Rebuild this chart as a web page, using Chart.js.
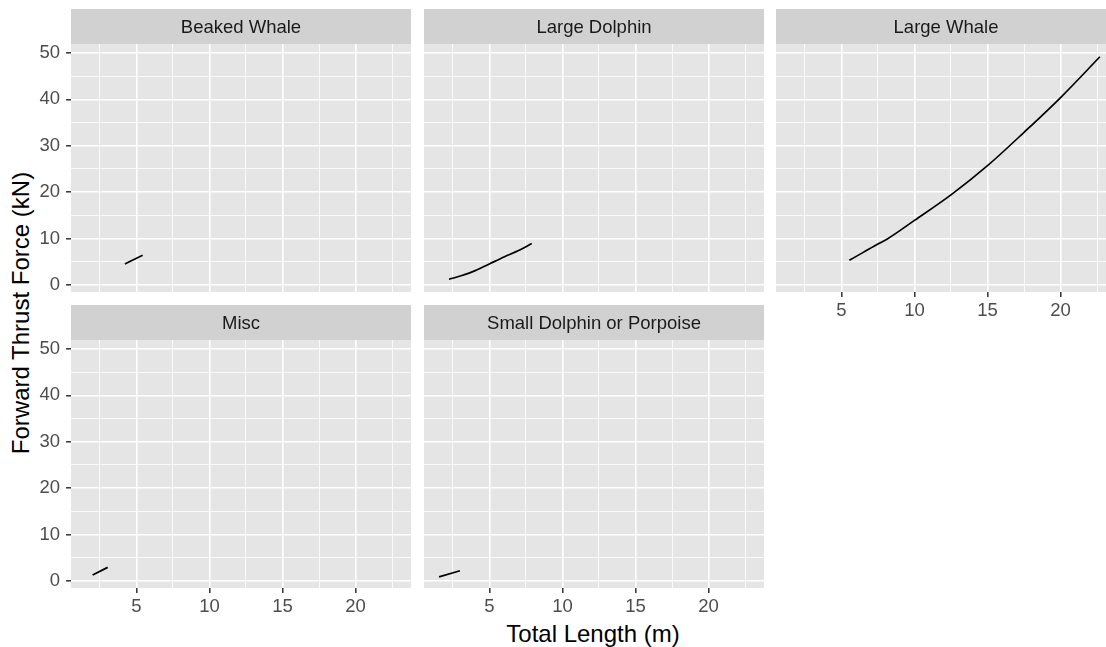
<!DOCTYPE html>
<html>
<head>
<meta charset="utf-8">
<script src="https://cdn.jsdelivr.net/npm/chart.js@4.4.1/dist/chart.umd.min.js"></script>
<style>
    html, body { margin: 0; overflow: hidden; background: #fff; }
    #wrap { position: relative; width: 1106px; height: 647px; overflow: hidden; }
    canvas { position: absolute; }
    .axis-title {
        position: absolute; color: #000; font: 24px "Liberation Sans", Arial, sans-serif;
        line-height: 1; white-space: nowrap; transform: translate(-50%, -50%);
    }
</style>
</head>
<body>
<div id="wrap">
<div class="axis-title" style="left:593px;top:633.5px">Total Length (m)</div>
<div class="axis-title" style="left:21px;top:313px;transform:translate(-50%,-50%) rotate(-90deg)">Forward Thrust Force (kN)</div>
</div>
<script>
// values
const beakedLen = [4.22, 4.8, 5.43];
const beakedForce = [4.5, 5.4, 6.4];
const largeDolphinLen = [2.24, 3, 4, 5, 6, 7, 7.9];
const largeDolphinForce = [1.2, 1.9, 3.0, 4.5, 6.0, 7.4, 8.9];
const largeWhaleLen = [5.55, 6.5, 7.5, 8.12, 10, 12.5, 15, 17.5, 20, 22.69];
const largeWhaleForce = [5.3, 7.0, 8.8, 9.85, 13.9, 19.4, 25.7, 32.9, 40.4, 49.2];
const miscLen = [2.01, 3.04];
const miscForce = [1.23, 2.9];
const smallDolphinLen = [1.56, 2.99];
const smallDolphinForce = [0.86, 2.16];

const xMajor = [5, 10, 15, 20];
const xMinor = [2.5, 7.5, 12.5, 17.5, 22.5];
const yMajor = [0, 10, 20, 30, 40, 50];
const yMinor = [5, 15, 25, 35, 45];
const xLimits = [0.53, 23.79];
const yLimits = [-1.55, 51.95];

const panels = [
    { name: 'Beaked Whale', len: beakedLen, force: beakedForce, col: 0, row: 0, showX: false },
    { name: 'Large Dolphin', len: largeDolphinLen, force: largeDolphinForce, col: 1, row: 0, showX: false },
    { name: 'Large Whale', len: largeWhaleLen, force: largeWhaleForce, col: 2, row: 0, showX: true },
    { name: 'Misc', len: miscLen, force: miscForce, col: 0, row: 1, showX: true },
    { name: 'Small Dolphin or Porpoise', len: smallDolphinLen, force: smallDolphinForce, col: 1, row: 1, showX: true },
];

const colLeft = [71, 424, 776];
const rowTop = [9, 305];
const stripH = 35, panelW = 340, panelH = 248, yAxisW = 71, xAxisH = 34;
const font = '"Liberation Sans", Arial, sans-serif';
const wrap = document.getElementById('wrap');

// grey panel + strip with the facet name
const stripPlugin = {
    id: 'strip',
    beforeDraw(chart, args, opts) {
        const { ctx, chartArea: a } = chart;
        ctx.save();
        ctx.fillStyle = '#E5E5E5';
        ctx.fillRect(a.left, a.top, a.right - a.left, a.bottom - a.top);
        ctx.fillStyle = '#D1D1D1';
        ctx.fillRect(a.left, a.top - stripH, a.right - a.left, stripH);
        ctx.fillStyle = '#1A1A1A';
        ctx.font = '18.5px ' + font;
        ctx.textAlign = 'center';
        ctx.textBaseline = 'middle';
        ctx.fillText(opts.text, (a.left + a.right) / 2, a.top - stripH / 2 + 1);
        ctx.restore();
    },
};

// x axis always keeps its height so the y labels never squeeze the panel
function axis(major, minor, limits, showLabels, isX) {
    return {
        type: 'linear',
        min: limits[0],
        max: limits[1],
        border: { display: false },
        afterBuildTicks: (s) => {
            s.ticks = major.concat(minor).sort((a, b) => a - b).map((v) => ({ value: v }));
        },
        afterFit: (s) => {
            if (isX) s.height = xAxisH;
            else s.width = showLabels ? yAxisW : 0;
        },
        grid: {
            color: '#FFFFFF',
            lineWidth: (c) => (major.includes(c.tick.value) ? 1.6 : 0.8),
            drawTicks: showLabels,
            tickLength: 5,
            tickWidth: 1.5,
            tickColor: (c) => (major.includes(c.tick.value) ? '#333333' : 'rgba(0,0,0,0)'),
        },
        ticks: {
            display: showLabels,
            autoSkip: false,
            maxRotation: 0,
            padding: isX ? 3 : 6,
            color: '#4D4D4D',
            font: { family: font, size: 18.5 },
            callback: (v) => (major.includes(v) ? String(v) : ''),
        },
    };
}

panels.forEach((p) => {
    const showY = p.col === 0;
    const canvas = document.createElement('canvas');
    const w = (showY ? yAxisW : 0) + panelW;
    const h = stripH + panelH + xAxisH;
    canvas.width = w;
    canvas.height = h;
    canvas.style.left = (colLeft[p.col] - (showY ? yAxisW : 0)) + 'px';
    canvas.style.top = rowTop[p.row] + 'px';
    canvas.style.width = w + 'px';
    canvas.style.height = h + 'px';
    wrap.appendChild(canvas);

    new Chart(canvas, {
        type: 'scatter',
        data: {
            datasets: [{
                data: p.len.map((x, i) => ({ x: x, y: p.force[i] })),
                showLine: true,
                borderColor: '#000000',
                borderWidth: 1.7,
                pointRadius: 0,
                cubicInterpolationMode: 'monotone',
            }],
        },
        options: {
            responsive: false,
            animation: false,
            devicePixelRatio: 1,
            layout: { padding: { top: stripH, left: 0, right: 0, bottom: 0 } },
            plugins: {
                legend: { display: false },
                tooltip: { enabled: false },
                strip: { text: p.name },
            },
            scales: {
                x: axis(xMajor, xMinor, xLimits, p.showX, true),
                y: axis(yMajor, yMinor, yLimits, showY, false),
            },
        },
        plugins: [stripPlugin],
    });
});
</script>
</body>
</html>
